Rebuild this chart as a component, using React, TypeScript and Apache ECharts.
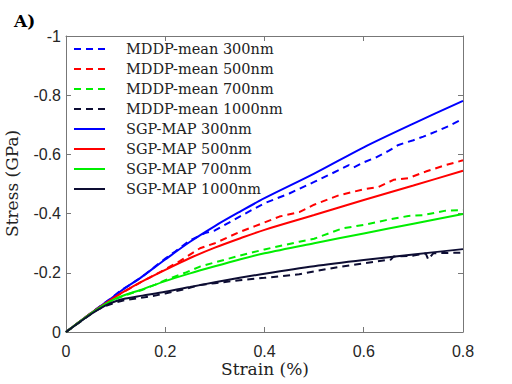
import React, { useEffect, useRef } from "react";
import * as echarts from "echarts";

const xTicks = [0, 0.2, 0.4, 0.6, 0.8];
const yTickLabels = ["-1", "-0.8", "-0.6", "-0.4", "-0.2", "0"];

const seriesNames = [
  "MDDP-mean 300nm",
  "MDDP-mean 500nm",
  "MDDP-mean 700nm",
  "MDDP-mean 1000nm",
  "SGP-MAP 300nm",
  "SGP-MAP 500nm",
  "SGP-MAP 700nm",
  "SGP-MAP 1000nm",
];
const seriesColors = ["#0000ff", "#ff0000", "#00ee00", "#0d0d33"];

const mddp300Strain = [0, 0.03, 0.06, 0.09, 0.11, 0.12, 0.13, 0.15, 0.16, 0.18, 0.2, 0.22, 0.25, 0.28, 0.3, 0.35, 0.4, 0.45, 0.5, 0.55, 0.57, 0.58, 0.6, 0.625, 0.65, 0.67, 0.7, 0.72, 0.745, 0.77, 0.8];
const mddp300Stress = [0, -0.038, -0.076, -0.113, -0.14, -0.15, -0.16, -0.183, -0.195, -0.222, -0.248, -0.272, -0.31, -0.334, -0.343, -0.39, -0.435, -0.468, -0.507, -0.547, -0.564, -0.556, -0.573, -0.59, -0.612, -0.632, -0.648, -0.66, -0.677, -0.695, -0.72];

const mddp500Strain = [0, 0.03, 0.06, 0.09, 0.11, 0.13, 0.15, 0.17, 0.2, 0.23, 0.27, 0.3, 0.35, 0.4, 0.43, 0.47, 0.5, 0.55, 0.6, 0.63, 0.66, 0.69, 0.725, 0.765, 0.8];
const mddp500Stress = [0, -0.038, -0.076, -0.11, -0.13, -0.148, -0.168, -0.185, -0.212, -0.24, -0.283, -0.3, -0.338, -0.37, -0.39, -0.405, -0.43, -0.462, -0.482, -0.49, -0.514, -0.52, -0.542, -0.564, -0.58];

const mddp700Strain = [0, 0.03, 0.06, 0.09, 0.11, 0.13, 0.15, 0.18, 0.2, 0.24, 0.27, 0.3, 0.35, 0.4, 0.47, 0.5, 0.557, 0.6, 0.645, 0.69, 0.72, 0.765, 0.8];
const mddp700Stress = [0, -0.037, -0.074, -0.105, -0.118, -0.13, -0.14, -0.16, -0.175, -0.2, -0.221, -0.235, -0.258, -0.279, -0.305, -0.315, -0.35, -0.362, -0.378, -0.392, -0.395, -0.41, -0.412];

const mddp1000Strain = [0, 0.03, 0.06, 0.08, 0.1, 0.12, 0.15, 0.17, 0.2, 0.24, 0.27, 0.3, 0.35, 0.4, 0.47, 0.5, 0.55, 0.6, 0.655, 0.66, 0.7, 0.725, 0.73, 0.74, 0.8];
const mddp1000Stress = [0, -0.036, -0.072, -0.088, -0.1, -0.108, -0.115, -0.12, -0.13, -0.145, -0.159, -0.165, -0.175, -0.183, -0.195, -0.205, -0.22, -0.232, -0.245, -0.255, -0.258, -0.265, -0.245, -0.266, -0.268];

const sgpStrain = [0, 0.05, 0.08, 0.1, 0.12, 0.15, 0.2, 0.25, 0.3, 0.35, 0.4, 0.5, 0.6, 0.7, 0.8];
const sgp300Stress = [0, -0.063, -0.1, -0.125, -0.15, -0.183, -0.245, -0.305, -0.358, -0.406, -0.452, -0.535, -0.624, -0.704, -0.781];
const sgp500Stress = [0, -0.063, -0.098, -0.12, -0.14, -0.168, -0.21, -0.25, -0.285, -0.316, -0.345, -0.395, -0.446, -0.495, -0.545];
const sgp700Stress = [0, -0.062, -0.095, -0.113, -0.126, -0.142, -0.172, -0.198, -0.222, -0.245, -0.266, -0.3, -0.333, -0.366, -0.399];
const sgp1000Stress = [0, -0.06, -0.09, -0.104, -0.113, -0.122, -0.136, -0.152, -0.168, -0.183, -0.197, -0.222, -0.243, -0.262, -0.28];

const zip = (xs: number[], ys: number[]) => xs.map((x, i) => [x, ys[i]]);

const SERIF = "DejaVu Serif";
const DASH = [7, 5];

export default function App() {
  const ref = useRef<HTMLDivElement>(null);
  useEffect(() => {
    if (!ref.current) return;
    const chart = echarts.init(ref.current, undefined, { renderer: "svg" });
    const mddp = [
      zip(mddp300Strain, mddp300Stress),
      zip(mddp500Strain, mddp500Stress),
      zip(mddp700Strain, mddp700Stress),
      zip(mddp1000Strain, mddp1000Stress),
    ];
    const sgp = [
      zip(sgpStrain, sgp300Stress),
      zip(sgpStrain, sgp500Stress),
      zip(sgpStrain, sgp700Stress),
      zip(sgpStrain, sgp1000Stress),
    ];
    const series: any[] = [];
    mddp.forEach((d, i) =>
      series.push({
        name: seriesNames[i],
        type: "line",
        data: d,
        showSymbol: false,
        symbol: "none",
        color: seriesColors[i],
        lineStyle: { width: 2, type: DASH, color: seriesColors[i] },
        z: 2,
      })
    );
    sgp.forEach((d, i) =>
      series.push({
        name: seriesNames[i + 4],
        type: "line",
        data: d,
        showSymbol: false,
        symbol: "none",
        smooth: 0.3,
        color: seriesColors[i],
        lineStyle: { width: 2, type: "solid", color: seriesColors[i] },
        z: 3,
      })
    );

    const textStyle = (text: string, size: number, extra: any = {}) => ({
      text,
      fontFamily: SERIF,
      fontSize: size,
      fill: "#222",
      verticalAlign: "middle",
      align: "left",
      ...extra,
    });

    const legendItems: any[] = [];
    seriesNames.forEach((name, i) => {
      const y = 49 + i * 20;
      const color = seriesColors[i % 4];
      legendItems.push({
        type: "line",
        shape: { x1: 74, y1: y, x2: 105, y2: y },
        style: { stroke: color, lineWidth: 2, lineDash: i < 4 ? DASH : null },
      });
      legendItems.push({ type: "text", x: 126, y: y, style: textStyle(name, 14.5) });
    });

    const axisColor = "#777";
    const fmtY = (v: number) => {
      const idx = Math.round((v + 1) / 0.2);
      return yTickLabels[idx] ?? String(v);
    };
    const sideAxis = {
      axisLine: { show: true, onZero: false, lineStyle: { color: axisColor, width: 1 } },
      axisTick: { show: true, inside: true, length: 5, lineStyle: { color: axisColor } },
      splitLine: { show: false },
    };
    chart.setOption({
      animation: false,
      backgroundColor: "#fff",
      grid: { left: 66, right: 49, top: 36, bottom: 52 },
      graphic: [
        ...legendItems,
        { type: "text", x: 14, y: 21, style: textStyle("A)", 17, { fontWeight: "bold", fill: "#000" }) },
        { type: "text", x: 221, y: 369, style: textStyle("Strain (%)", 17) },
        { type: "text", x: 12, y: 237, rotation: Math.PI / 2, style: textStyle("Stress (GPa)", 17) },
      ],
      xAxis: [
        {
          type: "value",
          min: 0,
          max: 0.8,
          interval: 0.2,
          ...sideAxis,
          axisLabel: {
            margin: 11,
            fontFamily: "Liberation Sans",
            fontSize: 16,
            color: "#262626",
            formatter: (v: number) => {
              const t = xTicks.find((x) => Math.abs(x - v) < 1e-6);
              return t === undefined ? "" : String(t);
            },
          },
        },
        {
          type: "value",
          position: "top",
          min: 0,
          max: 0.8,
          interval: 0.2,
          ...sideAxis,
          axisLabel: { show: false },
        },
      ],
      yAxis: [
        {
          type: "value",
          inverse: true,
          min: -1,
          max: 0,
          interval: 0.2,
          ...sideAxis,
          axisLabel: { margin: 5, fontFamily: "Liberation Sans", fontSize: 16, color: "#262626", formatter: fmtY },
        },
        {
          type: "value",
          inverse: true,
          position: "right",
          min: -1,
          max: 0,
          interval: 0.2,
          ...sideAxis,
          axisLabel: { show: false },
        },
      ],
      series,
    });
    return () => chart.dispose();
  }, []);
  return <div ref={ref} style={{ width: 512, height: 384, position: "absolute", left: 0, top: 0 }} />;
}
